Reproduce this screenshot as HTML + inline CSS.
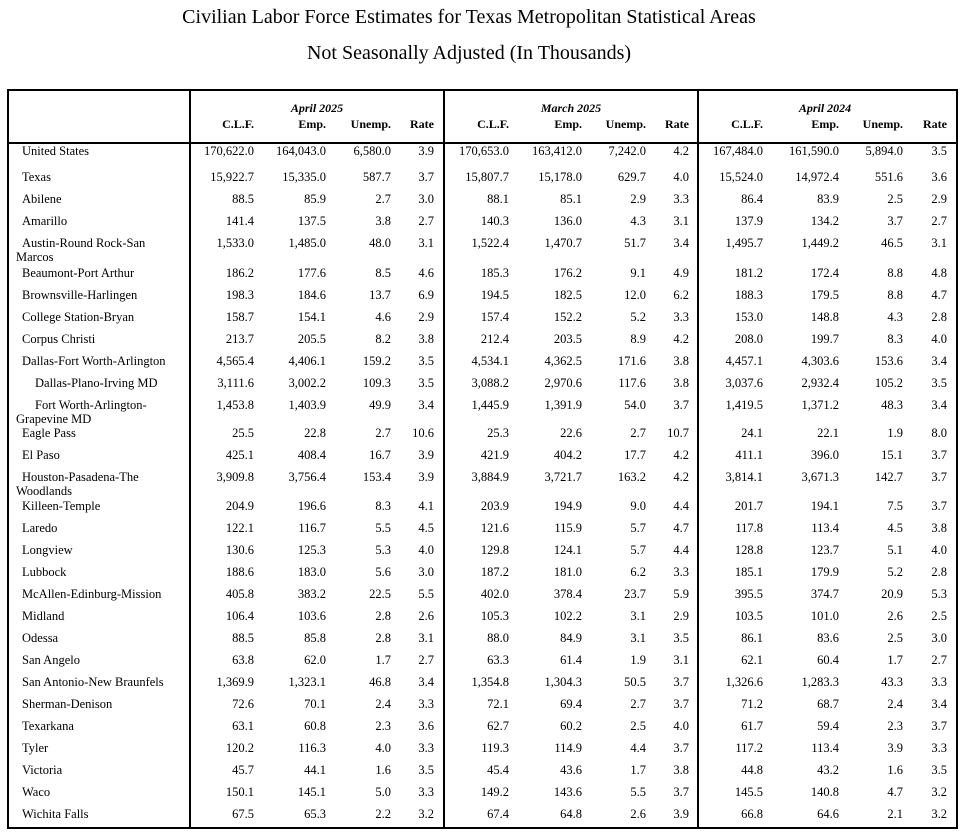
<!DOCTYPE html>
<html><head><meta charset="utf-8"><style>
body{margin:0;width:968px;height:835px;background:#fff;position:relative;font-family:"Liberation Serif",serif;color:#000;overflow:hidden}
.t{position:absolute;left:0;width:938px;text-align:center;font-size:20px;white-space:nowrap}
.box{position:absolute;left:7px;top:89px;width:947px;height:736px;border:2px solid #000}
.vl{position:absolute;top:89px;width:2px;height:740px;background:#000}
.hl{position:absolute;left:7px;top:142px;width:951px;height:2px;background:#000}
.r{position:absolute;left:0;width:968px;height:16px;line-height:16px;font-size:12.5px;white-space:nowrap}
.r span{position:absolute}
.l{left:22px}.l2{left:35px}.w{left:16px}
.a{right:714px}.b{right:642px}.c{right:577px}.d{right:534px}
.e{right:459px}.f{right:386px}.g{right:322px}.h{right:279px}
.i{right:205px}.j{right:129px}.k{right:65px}.m{right:21px}
.hd{font-weight:bold;font-size:12px}
.it{font-style:italic;font-weight:bold;font-size:12px;position:absolute;width:200px;text-align:center}
</style></head><body>
<div class="t" style="top:6px">Civilian Labor Force Estimates for Texas Metropolitan Statistical Areas</div>
<div class="t" style="top:42px">Not Seasonally Adjusted (In Thousands)</div>
<div class="box"></div>
<div class="vl" style="left:189px"></div>
<div class="vl" style="left:443px"></div>
<div class="vl" style="left:697px"></div>
<div class="hl"></div>
<div class="r hd" style="top:100px"><span class="it" style="left:217px">April 2025</span><span class="it" style="left:471px">March 2025</span><span class="it" style="left:725px">April 2024</span></div>
<div class="r hd" style="top:116px"><span class="a">C.L.F.</span><span class="b">Emp.</span><span class="c">Unemp.</span><span class="d">Rate</span><span class="e">C.L.F.</span><span class="f">Emp.</span><span class="g">Unemp.</span><span class="h">Rate</span><span class="i">C.L.F.</span><span class="j">Emp.</span><span class="k">Unemp.</span><span class="m">Rate</span></div>

<div class="r" style="top:143px"><span class="l">United States</span><span class="a">170,622.0</span><span class="b">164,043.0</span><span class="c">6,580.0</span><span class="d">3.9</span><span class="e">170,653.0</span><span class="f">163,412.0</span><span class="g">7,242.0</span><span class="h">4.2</span><span class="i">167,484.0</span><span class="j">161,590.0</span><span class="k">5,894.0</span><span class="m">3.5</span></div>
<div class="r" style="top:169px"><span class="l">Texas</span><span class="a">15,922.7</span><span class="b">15,335.0</span><span class="c">587.7</span><span class="d">3.7</span><span class="e">15,807.7</span><span class="f">15,178.0</span><span class="g">629.7</span><span class="h">4.0</span><span class="i">15,524.0</span><span class="j">14,972.4</span><span class="k">551.6</span><span class="m">3.6</span></div>
<div class="r" style="top:191px"><span class="l">Abilene</span><span class="a">88.5</span><span class="b">85.9</span><span class="c">2.7</span><span class="d">3.0</span><span class="e">88.1</span><span class="f">85.1</span><span class="g">2.9</span><span class="h">3.3</span><span class="i">86.4</span><span class="j">83.9</span><span class="k">2.5</span><span class="m">2.9</span></div>
<div class="r" style="top:213px"><span class="l">Amarillo</span><span class="a">141.4</span><span class="b">137.5</span><span class="c">3.8</span><span class="d">2.7</span><span class="e">140.3</span><span class="f">136.0</span><span class="g">4.3</span><span class="h">3.1</span><span class="i">137.9</span><span class="j">134.2</span><span class="k">3.7</span><span class="m">2.7</span></div>
<div class="r" style="top:235px"><span class="l">Austin-Round Rock-San</span><span class="a">1,533.0</span><span class="b">1,485.0</span><span class="c">48.0</span><span class="d">3.1</span><span class="e">1,522.4</span><span class="f">1,470.7</span><span class="g">51.7</span><span class="h">3.4</span><span class="i">1,495.7</span><span class="j">1,449.2</span><span class="k">46.5</span><span class="m">3.1</span></div>
<div class="r" style="top:249px"><span class="w">Marcos</span></div>
<div class="r" style="top:265px"><span class="l">Beaumont-Port Arthur</span><span class="a">186.2</span><span class="b">177.6</span><span class="c">8.5</span><span class="d">4.6</span><span class="e">185.3</span><span class="f">176.2</span><span class="g">9.1</span><span class="h">4.9</span><span class="i">181.2</span><span class="j">172.4</span><span class="k">8.8</span><span class="m">4.8</span></div>
<div class="r" style="top:287px"><span class="l">Brownsville-Harlingen</span><span class="a">198.3</span><span class="b">184.6</span><span class="c">13.7</span><span class="d">6.9</span><span class="e">194.5</span><span class="f">182.5</span><span class="g">12.0</span><span class="h">6.2</span><span class="i">188.3</span><span class="j">179.5</span><span class="k">8.8</span><span class="m">4.7</span></div>
<div class="r" style="top:309px"><span class="l">College Station-Bryan</span><span class="a">158.7</span><span class="b">154.1</span><span class="c">4.6</span><span class="d">2.9</span><span class="e">157.4</span><span class="f">152.2</span><span class="g">5.2</span><span class="h">3.3</span><span class="i">153.0</span><span class="j">148.8</span><span class="k">4.3</span><span class="m">2.8</span></div>
<div class="r" style="top:331px"><span class="l">Corpus Christi</span><span class="a">213.7</span><span class="b">205.5</span><span class="c">8.2</span><span class="d">3.8</span><span class="e">212.4</span><span class="f">203.5</span><span class="g">8.9</span><span class="h">4.2</span><span class="i">208.0</span><span class="j">199.7</span><span class="k">8.3</span><span class="m">4.0</span></div>
<div class="r" style="top:353px"><span class="l">Dallas-Fort Worth-Arlington</span><span class="a">4,565.4</span><span class="b">4,406.1</span><span class="c">159.2</span><span class="d">3.5</span><span class="e">4,534.1</span><span class="f">4,362.5</span><span class="g">171.6</span><span class="h">3.8</span><span class="i">4,457.1</span><span class="j">4,303.6</span><span class="k">153.6</span><span class="m">3.4</span></div>
<div class="r" style="top:375px"><span class="l2">Dallas-Plano-Irving MD</span><span class="a">3,111.6</span><span class="b">3,002.2</span><span class="c">109.3</span><span class="d">3.5</span><span class="e">3,088.2</span><span class="f">2,970.6</span><span class="g">117.6</span><span class="h">3.8</span><span class="i">3,037.6</span><span class="j">2,932.4</span><span class="k">105.2</span><span class="m">3.5</span></div>
<div class="r" style="top:397px"><span class="l2">Fort Worth-Arlington-</span><span class="a">1,453.8</span><span class="b">1,403.9</span><span class="c">49.9</span><span class="d">3.4</span><span class="e">1,445.9</span><span class="f">1,391.9</span><span class="g">54.0</span><span class="h">3.7</span><span class="i">1,419.5</span><span class="j">1,371.2</span><span class="k">48.3</span><span class="m">3.4</span></div>
<div class="r" style="top:411px"><span class="w">Grapevine MD</span></div>
<div class="r" style="top:425px"><span class="l">Eagle Pass</span><span class="a">25.5</span><span class="b">22.8</span><span class="c">2.7</span><span class="d">10.6</span><span class="e">25.3</span><span class="f">22.6</span><span class="g">2.7</span><span class="h">10.7</span><span class="i">24.1</span><span class="j">22.1</span><span class="k">1.9</span><span class="m">8.0</span></div>
<div class="r" style="top:447px"><span class="l">El Paso</span><span class="a">425.1</span><span class="b">408.4</span><span class="c">16.7</span><span class="d">3.9</span><span class="e">421.9</span><span class="f">404.2</span><span class="g">17.7</span><span class="h">4.2</span><span class="i">411.1</span><span class="j">396.0</span><span class="k">15.1</span><span class="m">3.7</span></div>
<div class="r" style="top:469px"><span class="l">Houston-Pasadena-The</span><span class="a">3,909.8</span><span class="b">3,756.4</span><span class="c">153.4</span><span class="d">3.9</span><span class="e">3,884.9</span><span class="f">3,721.7</span><span class="g">163.2</span><span class="h">4.2</span><span class="i">3,814.1</span><span class="j">3,671.3</span><span class="k">142.7</span><span class="m">3.7</span></div>
<div class="r" style="top:483px"><span class="w">Woodlands</span></div>
<div class="r" style="top:498px"><span class="l">Killeen-Temple</span><span class="a">204.9</span><span class="b">196.6</span><span class="c">8.3</span><span class="d">4.1</span><span class="e">203.9</span><span class="f">194.9</span><span class="g">9.0</span><span class="h">4.4</span><span class="i">201.7</span><span class="j">194.1</span><span class="k">7.5</span><span class="m">3.7</span></div>
<div class="r" style="top:520px"><span class="l">Laredo</span><span class="a">122.1</span><span class="b">116.7</span><span class="c">5.5</span><span class="d">4.5</span><span class="e">121.6</span><span class="f">115.9</span><span class="g">5.7</span><span class="h">4.7</span><span class="i">117.8</span><span class="j">113.4</span><span class="k">4.5</span><span class="m">3.8</span></div>
<div class="r" style="top:542px"><span class="l">Longview</span><span class="a">130.6</span><span class="b">125.3</span><span class="c">5.3</span><span class="d">4.0</span><span class="e">129.8</span><span class="f">124.1</span><span class="g">5.7</span><span class="h">4.4</span><span class="i">128.8</span><span class="j">123.7</span><span class="k">5.1</span><span class="m">4.0</span></div>
<div class="r" style="top:564px"><span class="l">Lubbock</span><span class="a">188.6</span><span class="b">183.0</span><span class="c">5.6</span><span class="d">3.0</span><span class="e">187.2</span><span class="f">181.0</span><span class="g">6.2</span><span class="h">3.3</span><span class="i">185.1</span><span class="j">179.9</span><span class="k">5.2</span><span class="m">2.8</span></div>
<div class="r" style="top:586px"><span class="l">McAllen-Edinburg-Mission</span><span class="a">405.8</span><span class="b">383.2</span><span class="c">22.5</span><span class="d">5.5</span><span class="e">402.0</span><span class="f">378.4</span><span class="g">23.7</span><span class="h">5.9</span><span class="i">395.5</span><span class="j">374.7</span><span class="k">20.9</span><span class="m">5.3</span></div>
<div class="r" style="top:608px"><span class="l">Midland</span><span class="a">106.4</span><span class="b">103.6</span><span class="c">2.8</span><span class="d">2.6</span><span class="e">105.3</span><span class="f">102.2</span><span class="g">3.1</span><span class="h">2.9</span><span class="i">103.5</span><span class="j">101.0</span><span class="k">2.6</span><span class="m">2.5</span></div>
<div class="r" style="top:630px"><span class="l">Odessa</span><span class="a">88.5</span><span class="b">85.8</span><span class="c">2.8</span><span class="d">3.1</span><span class="e">88.0</span><span class="f">84.9</span><span class="g">3.1</span><span class="h">3.5</span><span class="i">86.1</span><span class="j">83.6</span><span class="k">2.5</span><span class="m">3.0</span></div>
<div class="r" style="top:652px"><span class="l">San Angelo</span><span class="a">63.8</span><span class="b">62.0</span><span class="c">1.7</span><span class="d">2.7</span><span class="e">63.3</span><span class="f">61.4</span><span class="g">1.9</span><span class="h">3.1</span><span class="i">62.1</span><span class="j">60.4</span><span class="k">1.7</span><span class="m">2.7</span></div>
<div class="r" style="top:674px"><span class="l">San Antonio-New Braunfels</span><span class="a">1,369.9</span><span class="b">1,323.1</span><span class="c">46.8</span><span class="d">3.4</span><span class="e">1,354.8</span><span class="f">1,304.3</span><span class="g">50.5</span><span class="h">3.7</span><span class="i">1,326.6</span><span class="j">1,283.3</span><span class="k">43.3</span><span class="m">3.3</span></div>
<div class="r" style="top:696px"><span class="l">Sherman-Denison</span><span class="a">72.6</span><span class="b">70.1</span><span class="c">2.4</span><span class="d">3.3</span><span class="e">72.1</span><span class="f">69.4</span><span class="g">2.7</span><span class="h">3.7</span><span class="i">71.2</span><span class="j">68.7</span><span class="k">2.4</span><span class="m">3.4</span></div>
<div class="r" style="top:718px"><span class="l">Texarkana</span><span class="a">63.1</span><span class="b">60.8</span><span class="c">2.3</span><span class="d">3.6</span><span class="e">62.7</span><span class="f">60.2</span><span class="g">2.5</span><span class="h">4.0</span><span class="i">61.7</span><span class="j">59.4</span><span class="k">2.3</span><span class="m">3.7</span></div>
<div class="r" style="top:740px"><span class="l">Tyler</span><span class="a">120.2</span><span class="b">116.3</span><span class="c">4.0</span><span class="d">3.3</span><span class="e">119.3</span><span class="f">114.9</span><span class="g">4.4</span><span class="h">3.7</span><span class="i">117.2</span><span class="j">113.4</span><span class="k">3.9</span><span class="m">3.3</span></div>
<div class="r" style="top:762px"><span class="l">Victoria</span><span class="a">45.7</span><span class="b">44.1</span><span class="c">1.6</span><span class="d">3.5</span><span class="e">45.4</span><span class="f">43.6</span><span class="g">1.7</span><span class="h">3.8</span><span class="i">44.8</span><span class="j">43.2</span><span class="k">1.6</span><span class="m">3.5</span></div>
<div class="r" style="top:784px"><span class="l">Waco</span><span class="a">150.1</span><span class="b">145.1</span><span class="c">5.0</span><span class="d">3.3</span><span class="e">149.2</span><span class="f">143.6</span><span class="g">5.5</span><span class="h">3.7</span><span class="i">145.5</span><span class="j">140.8</span><span class="k">4.7</span><span class="m">3.2</span></div>
<div class="r" style="top:806px"><span class="l">Wichita Falls</span><span class="a">67.5</span><span class="b">65.3</span><span class="c">2.2</span><span class="d">3.2</span><span class="e">67.4</span><span class="f">64.8</span><span class="g">2.6</span><span class="h">3.9</span><span class="i">66.8</span><span class="j">64.6</span><span class="k">2.1</span><span class="m">3.2</span></div>
</body></html>
